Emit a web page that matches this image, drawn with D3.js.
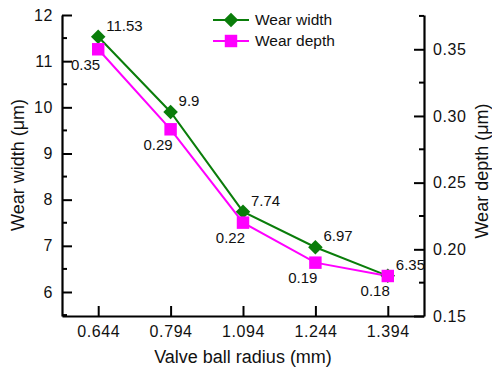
<!DOCTYPE html>
<html>
<head>
<meta charset="utf-8">
<script src="https://cdn.jsdelivr.net/npm/d3@7"></script>
<style>
  body { margin: 0; background: #fff; }
  text { font-family: "Liberation Sans", Arial, sans-serif; fill: #111; }
</style>
</head>
<body>
<svg id="chart" width="492" height="372"></svg>
<script>
// data
var radius = ["0.644", "0.794", "1.094", "1.244", "1.394"];
var wearWidth = [11.53, 9.9, 7.74, 6.97, 6.35];
var wearDepth = [0.35, 0.29, 0.22, 0.19, 0.18];
var widthTicks = [6, 7, 8, 9, 10, 11, 12];
var depthTicks = [0.15, 0.20, 0.25, 0.30, 0.35];

var svg = d3.select("#chart"),
    margin = {top: 15, right: 68, bottom: 56, left: 62},
    width = +svg.attr("width") - margin.left - margin.right,
    height = +svg.attr("height") - margin.top - margin.bottom,
    g = svg.append("g").attr("transform", "translate(" + margin.left + "," + margin.top + ")");

var x = d3.scalePoint().domain(radius).range([0, width]).padding(0.5);
var yL = d3.scaleLinear().domain([5.48, 12]).range([height, 0]);
var yR = d3.scaleLinear().domain([0.15, 0.3757]).range([height, 0]);

var green = "#0a7d0a", pink = "#ff00ff";

// minor ticks between the majors
var minorL = [5.5, 6.5, 7.5, 8.5, 9.5, 10.5, 11.5];
var minorR = [0.175, 0.225, 0.275, 0.325, 0.375];

var axL = g.append("g")
  .call(d3.axisLeft(yL).tickValues(widthTicks).tickFormat(d3.format("d")).tickSizeInner(-10).tickSizeOuter(0).tickPadding(9));
g.append("g").selectAll("line").data(minorL).enter().append("line")
  .attr("x1", 0).attr("x2", 5).attr("y1", yL).attr("y2", yL)
  .attr("stroke", "#000").attr("stroke-width", 2);

var axR = g.append("g").attr("transform", "translate(" + width + ",0)")
  .call(d3.axisRight(yR).tickValues(depthTicks).tickFormat(d3.format(".2f")).tickSizeInner(-10).tickSizeOuter(0).tickPadding(9));
g.append("g").selectAll("line").data(minorR).enter().append("line")
  .attr("x1", width).attr("x2", width - 5).attr("y1", yR).attr("y2", yR)
  .attr("stroke", "#000").attr("stroke-width", 2);

var axB = g.append("g").attr("transform", "translate(0," + height + ")")
  .call(d3.axisBottom(x).tickSizeInner(-10).tickSizeOuter(0).tickPadding(10));

[axL, axR, axB].forEach(function(a) {
  a.select(".domain").attr("stroke", "#000").attr("stroke-width", 2.2);
  a.selectAll(".tick line").attr("stroke", "#000").attr("stroke-width", 2);
  a.selectAll(".tick text").style("font-size", "16px").style("letter-spacing", "0.6px").attr("fill", "#111");
});

// axis titles
svg.append("text").attr("transform", "translate(18,165) rotate(-90)")
  .attr("text-anchor", "middle").attr("dy", "0.35em").style("font-size", "18px").text("Wear width (μm)");
svg.append("text").attr("transform", "translate(482,171) rotate(-90)")
  .attr("text-anchor", "middle").attr("dy", "0.35em").style("font-size", "18px").text("Wear depth (μm)");
svg.append("text").attr("x", margin.left + width / 2).attr("y", 357)
  .attr("text-anchor", "middle").attr("dy", "0.35em").style("font-size", "18px").text("Valve ball radius (mm)");

// lines
var lineW = d3.line().x(function(d, i) { return x(radius[i]); }).y(function(d) { return yL(d); });
var lineD = d3.line().x(function(d, i) { return x(radius[i]); }).y(function(d) { return yR(d); });

g.append("path").datum(wearWidth).attr("d", lineW).attr("fill", "none").attr("stroke", green).attr("stroke-width", 2);
g.append("path").datum(wearDepth).attr("d", lineD).attr("fill", "none").attr("stroke", pink).attr("stroke-width", 2);

var diamond = d3.symbol().type(d3.symbolDiamond2).size(135);
var square = d3.symbol().type(d3.symbolSquare).size(155);

g.selectAll(".dw").data(wearWidth).enter().append("path")
  .attr("d", diamond)
  .attr("transform", function(d, i) { return "translate(" + x(radius[i]) + "," + yL(d) + ")"; })
  .attr("fill", green);
g.selectAll(".dd").data(wearDepth).enter().append("path")
  .attr("d", square)
  .attr("transform", function(d, i) { return "translate(" + x(radius[i]) + "," + yR(d) + ")"; })
  .attr("fill", pink);

// value labels
g.selectAll(".lw").data(wearWidth).enter().append("text")
  .attr("x", function(d, i) { return x(radius[i]) + 8; })
  .attr("y", function(d) { return yL(d) - 11; })
  .attr("dy", "0.35em").style("font-size", "15px")
  .text(function(d) { return d; });
g.selectAll(".ld").data(wearDepth).enter().append("text")
  .attr("x", function(d, i) { return x(radius[i]) + 2; })
  .attr("y", function(d) { return yR(d) + 15; })
  .attr("text-anchor", "end")
  .attr("dy", "0.35em").style("font-size", "15px")
  .text(function(d) { return d; });

// legend
var legend = svg.append("g").attr("transform", "translate(213,20)");
var items = [{name: "Wear width", color: green, sym: diamond}, {name: "Wear depth", color: pink, sym: square}];
items.forEach(function(it, i) {
  var row = legend.append("g").attr("transform", "translate(0," + i * 21 + ")");
  row.append("line").attr("x1", 0).attr("x2", 36).attr("stroke", it.color).attr("stroke-width", 2);
  row.append("path").attr("d", it.sym).attr("transform", "translate(18,0)").attr("fill", it.color);
  row.append("text").attr("x", 42).attr("dy", "0.35em").style("font-size", "15.5px").text(it.name);
});
</script>
</body>
</html>
